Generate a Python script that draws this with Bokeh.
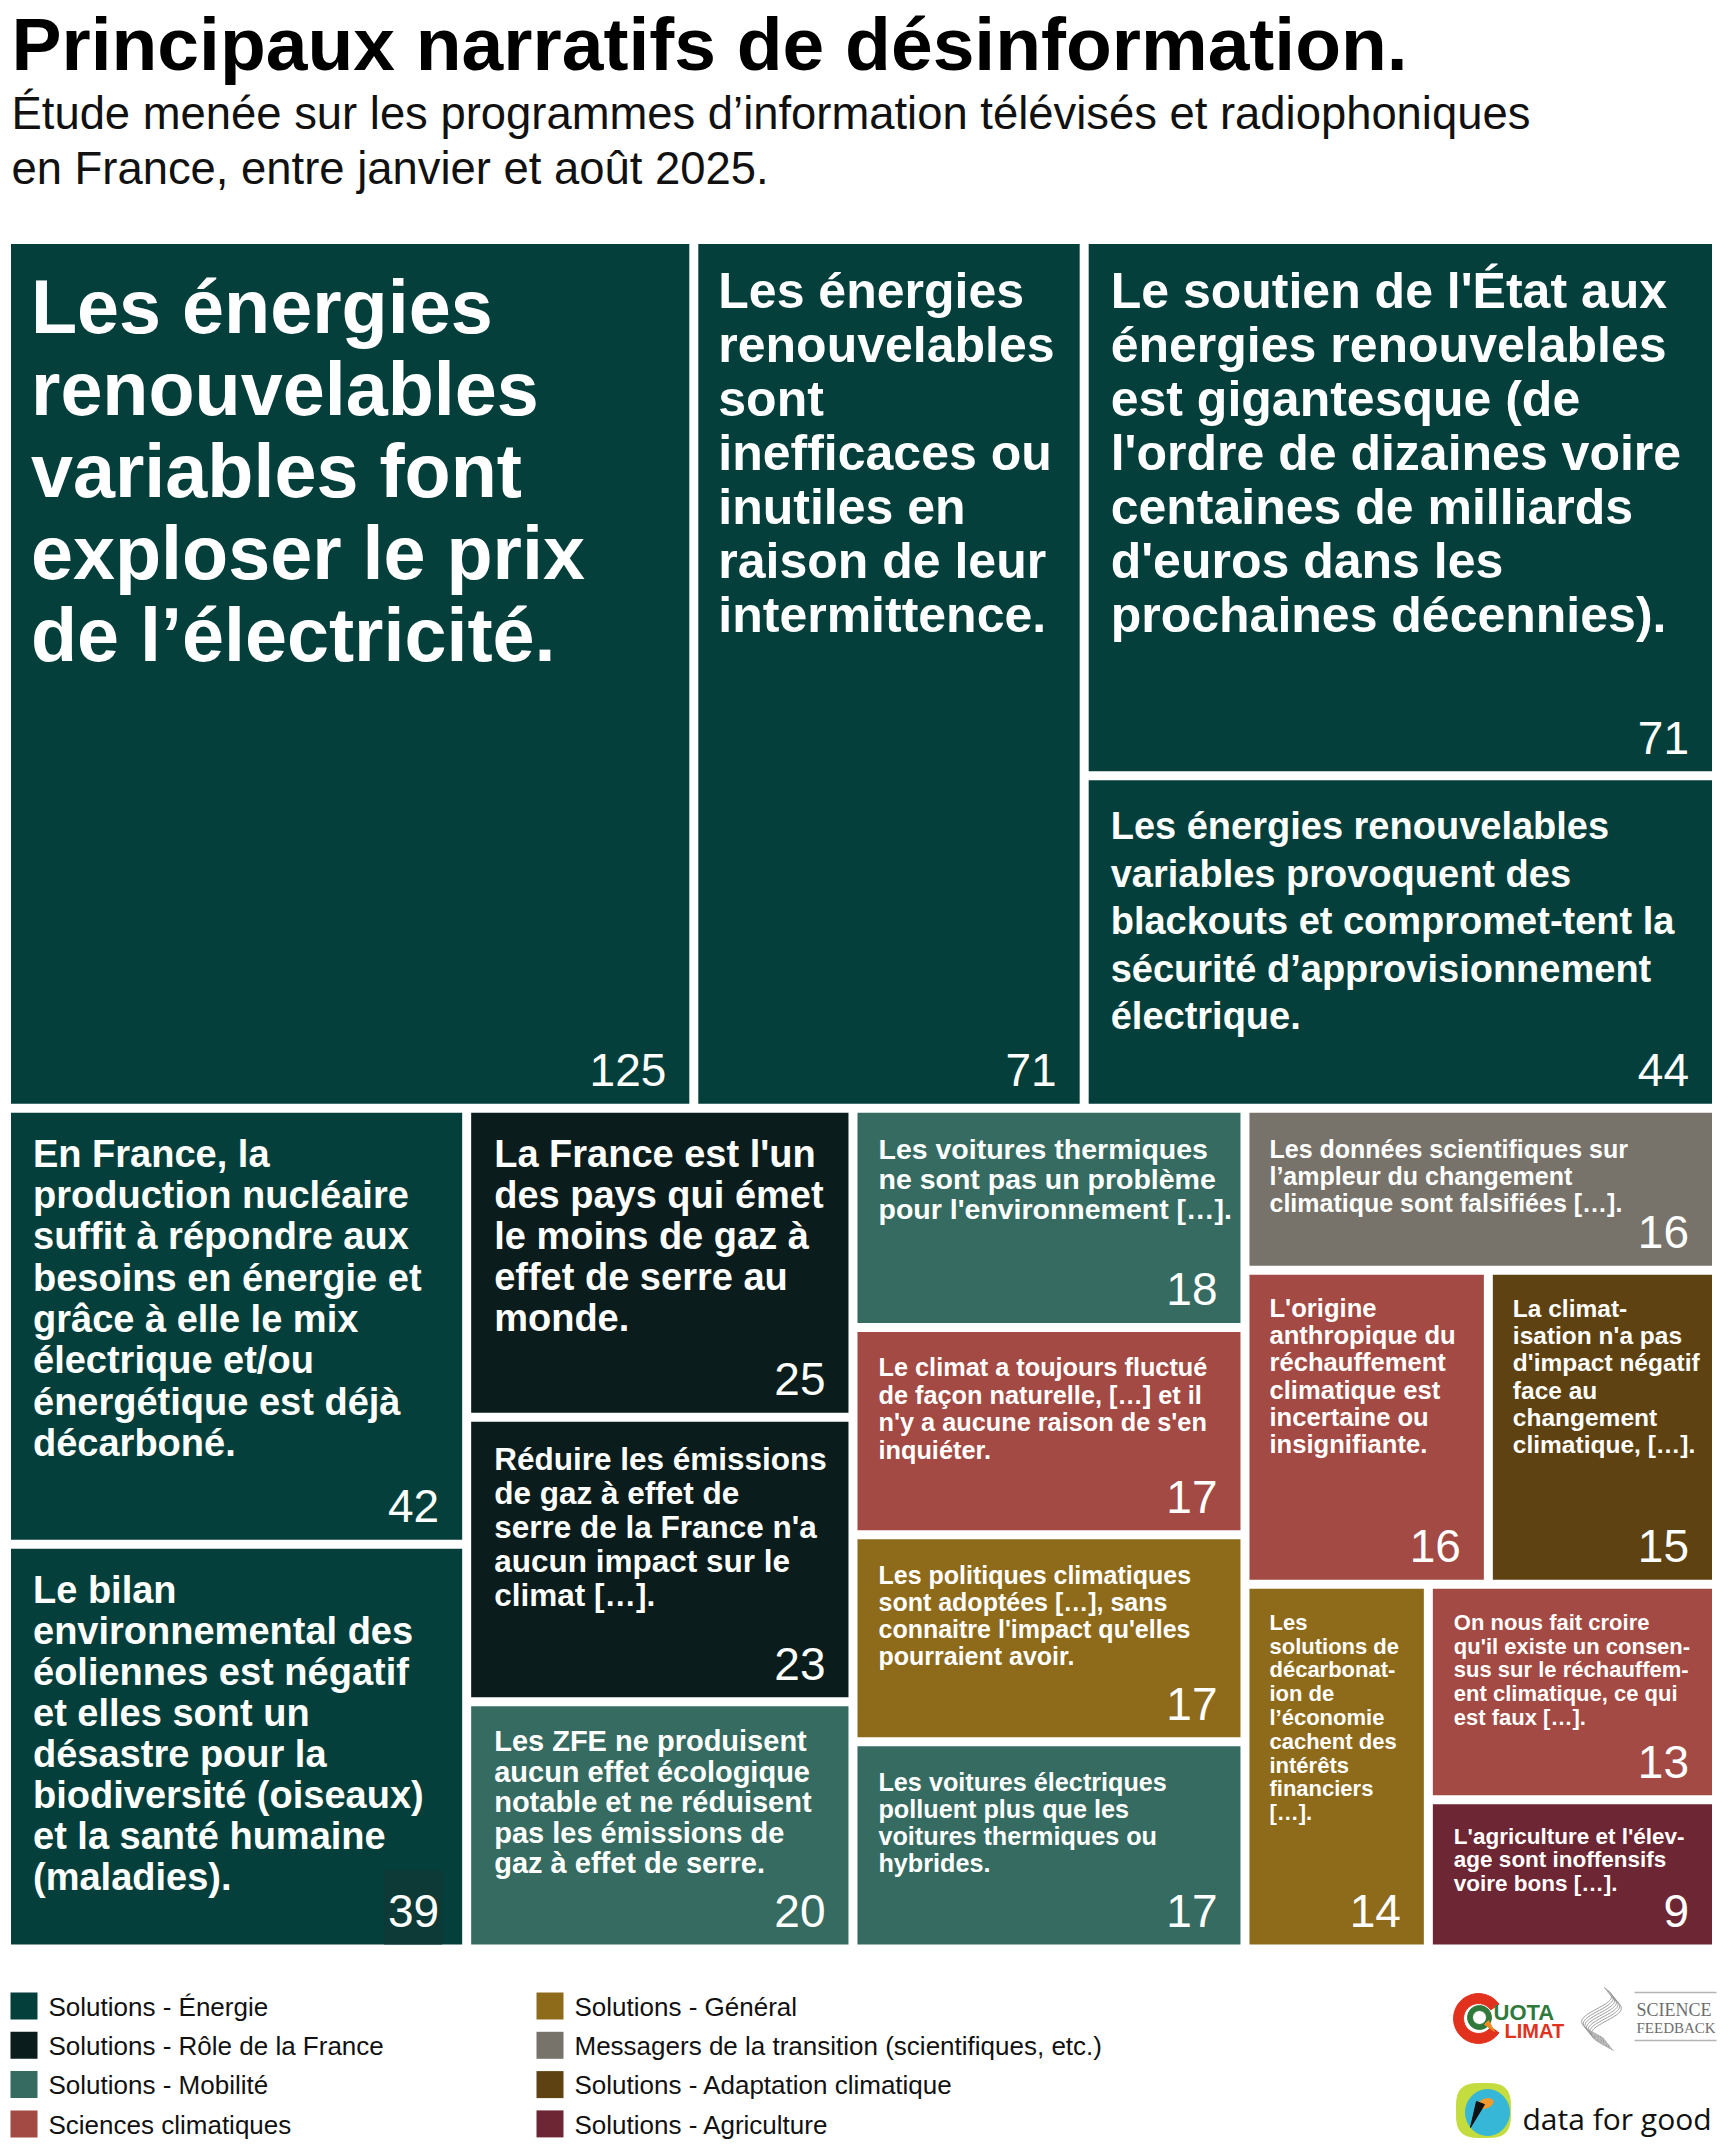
import numpy as np
from bokeh.plotting import figure
from bokeh.models import ColumnDataSource, Range1d
from bokeh.core.properties import value
from bokeh.embed import file_html
from bokeh.resources import INLINE

# ---------------- data ----------------
title = "Principaux narratifs de désinformation."
subtitle = ["Étude menée sur les programmes d’information télévisés et radiophoniques",
            "en France, entre janvier et août 2025."]

labels = [
    "Les énergies\nrenouvelables\nvariables font\nexploser le prix\nde l’électricité.",
    "Les énergies\nrenouvelables\nsont\ninefficaces ou\ninutiles en\nraison de leur\nintermittence.",
    "Le soutien de l'État aux\nénergies renouvelables\nest gigantesque (de\nl'ordre de dizaines voire\ncentaines de milliards\nd'euros dans les\nprochaines décennies).",
    "Les énergies renouvelables\nvariables provoquent des\nblackouts et compromet-tent la\nsécurité d’approvisionnement\nélectrique.",
    "En France, la\nproduction nucléaire\nsuffit à répondre aux\nbesoins en énergie et\ngrâce à elle le mix\nélectrique et/ou\nénergétique est déjà\ndécarboné.",
    "Le bilan\nenvironnemental des\néoliennes est négatif\net elles sont un\ndésastre pour la\nbiodiversité (oiseaux)\net la santé humaine\n(maladies).",
    "La France est l'un\ndes pays qui émet\nle moins de gaz à\neffet de serre au\nmonde.",
    "Réduire les émissions\nde gaz à effet de\nserre de la France n'a\naucun impact sur le\nclimat […].",
    "Les ZFE ne produisent\naucun effet écologique\nnotable et ne réduisent\npas les émissions de\ngaz à effet de serre.",
    "Les voitures thermiques\nne sont pas un problème\npour l'environnement […].",
    "Le climat a toujours fluctué\nde façon naturelle, […] et il\nn'y a aucune raison de s'en\ninquiéter.",
    "Les politiques climatiques\nsont adoptées […], sans\nconnaitre l'impact qu'elles\npourraient avoir.",
    "Les voitures électriques\npolluent plus que les\nvoitures thermiques ou\nhybrides.",
    "Les données scientifiques sur\nl’ampleur du changement\nclimatique sont falsifiées […].",
    "L'origine\nanthropique du\nréchauffement\nclimatique est\nincertaine ou\ninsignifiante.",
    "La climat-\nisation n'a pas\nd'impact négatif\nface au\nchangement\nclimatique, […].",
    "Les\nsolutions de\ndécarbonat-\nion de\nl’économie\ncachent des\nintérêts\nfinanciers\n[…].",
    "On nous fait croire\nqu'il existe un consen-\nsus sur le réchauffem-\nent climatique, ce qui\nest faux […].",
    "L'agriculture et l'élev-\nage sont inoffensifs\nvoire bons […].",
]
values = [125, 71, 71, 44, 42, 39, 25, 23, 20, 18, 17, 17, 17, 16, 16, 15, 14, 13, 9]
categories = [
    "Solutions - Énergie", "Solutions - Énergie", "Solutions - Énergie", "Solutions - Énergie",
    "Solutions - Énergie", "Solutions - Énergie",
    "Solutions - Rôle de la France", "Solutions - Rôle de la France",
    "Solutions - Mobilité", "Solutions - Mobilité",
    "Sciences climatiques", "Solutions - Général", "Solutions - Mobilité",
    "Messagers de la transition (scientifiques, etc.)", "Sciences climatiques",
    "Solutions - Adaptation climatique", "Solutions - Général", "Sciences climatiques",
    "Solutions - Agriculture",
]
legend_names = [
    "Solutions - Énergie", "Solutions - Rôle de la France", "Solutions - Mobilité",
    "Sciences climatiques", "Solutions - Général",
    "Messagers de la transition (scientifiques, etc.)", "Solutions - Adaptation climatique",
    "Solutions - Agriculture",
]
legend_colors = ["#043F3B", "#0A1C1C", "#366B62", "#A24A43",
                 "#8E6B1B", "#77736A", "#5E4211", "#6D2633"]

# ---------------- layout structure (slice-and-dice nesting) ----------------
tree = ("v", [("h", [0, 1, ("v", [2, 3])]),
              ("h", [("v", [4, 5]), ("v", [6, 7, 8]), ("v", [9, 10, 11, 12]),
                     ("v", [13, ("h", [14, 15]), ("h", [16, ("v", [17, 18])])])])])


def total(node):
    if isinstance(node, int):
        return values[node]
    return sum(total(c) for c in node[1])


def layout(node, x0, y0, x1, y1, out):
    if isinstance(node, int):
        out[node] = (x0, y0, x1, y1)
        return
    kind, children = node
    tot = total(node)
    pos = x0 if kind == "h" else y0
    for c in children:
        f = total(c) / tot
        if kind == "h":
            w = (x1 - x0) * f
            layout(c, pos, y0, pos + w, y1, out)
        else:
            w = (y1 - y0) * f
            layout(c, x0, pos, x1, pos + w, out)
        pos += w


rects = {}
layout(tree, 6, 239, 1716, 1948.5, rects)
GAP = 4.5
n = len(values)
L = [rects[i][0] + GAP for i in range(n)]
T = [rects[i][1] + GAP for i in range(n)]
R = [rects[i][2] - GAP for i in range(n)]
B = [rects[i][3] - GAP for i in range(n)]
cmap = dict(zip(legend_names, legend_colors))
cols = [cmap[c] for c in categories]

# text styles per tile: font size, line height, first-baseline offset, left pad
fsz = [75.5, 50, 50, 38, 38, 38, 38, 31.5, 29, 28.5, 25.3, 25, 25.2, 25, 25.6, 24.5, 22, 22, 22.5]
lhs = [82, 54, 54, 47.4, 41.3, 41, 41, 34, 30.4, 30.2, 27.4, 27.2, 27, 27, 27.2, 27.2, 23.8, 23.8, 23.3]
offs = [89, 64, 64, 59, 54, 54, 54, 48, 45, 46, 44, 44, 44, 45, 42, 42, 41, 41, 40]
pads = [20, 20, 22, 22, 22, 22, 23, 23, 23, 21, 21, 21, 21, 20, 20, 20, 20, 21, 21]

SHIFT = 0.34  # baseline correction (fraction of font size)


def by(y, size):
    return y - SHIFT * size


# ---------------- figure ----------------
W, H = 1721, 2145
p = figure(width=W, height=H, x_range=Range1d(0, W), y_range=Range1d(H, 0),
           output_backend="svg", toolbar_location=None, x_axis_type=None, y_axis_type=None,
           min_border=0)
p.outline_line_color = None
p.background_fill_color = "white"
p.border_fill_color = "white"

FONT = value("Liberation Sans")

# title / subtitle
p.text(x=[11], y=[by(69, 75)], text=[title], text_font=FONT, text_font_style="bold",
       text_font_size="75px", text_color="#000000", text_baseline="alphabetic")
p.text(x=[11, 11], y=[by(128, 45.4), by(183, 45.4)], text=subtitle, text_font=FONT,
       text_font_size="45.4px", text_color="#111111", text_baseline="alphabetic")

# tiles
p.quad(left=L, right=R, top=T, bottom=B, fill_color=cols, line_color=None)

# little darker box behind "39" present in source
i39 = values.index(39)
p.quad(left=[R[i39] - 78], right=[R[i39] - 20], top=[B[i39] - 74], bottom=[B[i39]],
       fill_color="#0D3A36", line_color=None)

tx, ty, tt, ts = [], [], [], []
for i in range(n):
    for k, line in enumerate(labels[i].split("\n")):
        tx.append(L[i] + pads[i])
        ty.append(by(T[i] + offs[i] + k * lhs[i], fsz[i]))
        tt.append(line)
        ts.append(f"{fsz[i]}px")
src = ColumnDataSource(dict(x=tx, y=ty, text=tt, size=ts))
p.text(x="x", y="y", text="text", text_font_size="size", source=src, text_font=FONT,
       text_font_style="bold", text_color="white", text_baseline="alphabetic")

NUM = 46
nsrc = ColumnDataSource(dict(x=[r - 23 for r in R], y=[by(b - 18, NUM) for b in B],
                             text=[str(v) for v in values]))
p.text(x="x", y="y", text="text", source=nsrc, text_font=FONT, text_font_size=f"{NUM}px",
       text_color="white", text_align="right", text_baseline="alphabetic")

# legend
lx_sq = [10, 536]
lx_tx = [48, 574]
sq_l, sq_t, lt_x, lt_y = [], [], [], []
for j, name in enumerate(legend_names):
    c, r = j // 4, j % 4
    y0 = 1992 + r * 39.3
    sq_l.append(lx_sq[c]); sq_t.append(y0)
    lt_x.append(lx_tx[c]); lt_y.append(by(y0 + 23, 26))
p.quad(left=sq_l, right=[v + 27 for v in sq_l], top=sq_t, bottom=[v + 27 for v in sq_t],
       fill_color=legend_colors, line_color=None)
p.text(x=lt_x, y=lt_y, text=legend_names, text_font=FONT, text_font_size="26px",
       text_color="#111111", text_baseline="alphabetic")

# ---------------- logos (approximations) ----------------
# QuotaClimat
p.annular_wedge(x=[1478], y=[2018], inner_radius=15, outer_radius=25,
                start_angle=np.radians(35), end_angle=np.radians(325),
                color="#E2321E", direction="anticlock")
p.annulus(x=[1479], y=[2017], inner_radius=7, outer_radius=12, color="#2F7A3A")
p.patch(x=[1484, 1494, 1488], y=[2024, 2031, 2020], color="#F28A22")
p.text(x=[1493], y=[by(2019, 22)], text=["UOTA"], text_font=FONT, text_font_style="bold",
       text_font_size="22px", text_color="#2F7A3A", text_baseline="alphabetic")
p.text(x=[1504], y=[by(2037, 20)], text=["LIMAT"], text_font=FONT, text_font_style="bold",
       text_font_size="20px", text_color="#E2321E", text_baseline="alphabetic")

# Science Feedback
tt_ = np.linspace(0, 1, 60)
xs, ys = [], []
for k in range(7):
    xs.append(list(1601 + 15 * np.sin(2 * np.pi * tt_ + 0.5) + (k - 3) * 1.6))
    ys.append(list(1993 + 51 * tt_ + (k - 3) * 2.0))
p.multi_line(xs=xs, ys=ys, line_color="#9A9A9A", line_width=1)
p.segment(x0=[1634, 1634], y0=[1992, 2040], x1=[1716, 1716], y1=[1992, 2040],
          line_color="#B5B5B5", line_width=1.5)
p.text(x=[1636], y=[by(2016, 18)], text=["SCIENCE"],
       text_font=value("Liberation Serif"), text_font_size="18px",
       text_color="#6E6E6E", text_baseline="alphabetic")
p.text(x=[1636], y=[by(2033, 15)], text=["FEEDBACK"],
       text_font=value("Liberation Serif"), text_font_size="15px",
       text_color="#6E6E6E", text_baseline="alphabetic")

# data for good
th = np.linspace(0, 2 * np.pi, 80)
bxs = 1483 + 27 * np.sign(np.cos(th)) * np.abs(np.cos(th)) ** 0.6
bys = 2110 + 27 * np.sign(np.sin(th)) * np.abs(np.sin(th)) ** 0.6
p.patch(x=list(bxs), y=list(bys), color="#C5DC3E")
p.ellipse(x=[1487], y=[2112], width=44, height=46, color="#36B7D8")
p.ellipse(x=[1485], y=[2103], width=16, height=9, angle=0.3, color="#F29A2E")
p.patch(x=[1470, 1484, 1476], y=[2127, 2104, 2101], color="#111111")
p.text(x=[1522], y=[by(2128, 30)], text=["data for good"], text_font=value("Open Sans"),
       text_font_size="30px", text_color="#111111", text_baseline="alphabetic")

open("out.html", "w").write(file_html(p, INLINE))
